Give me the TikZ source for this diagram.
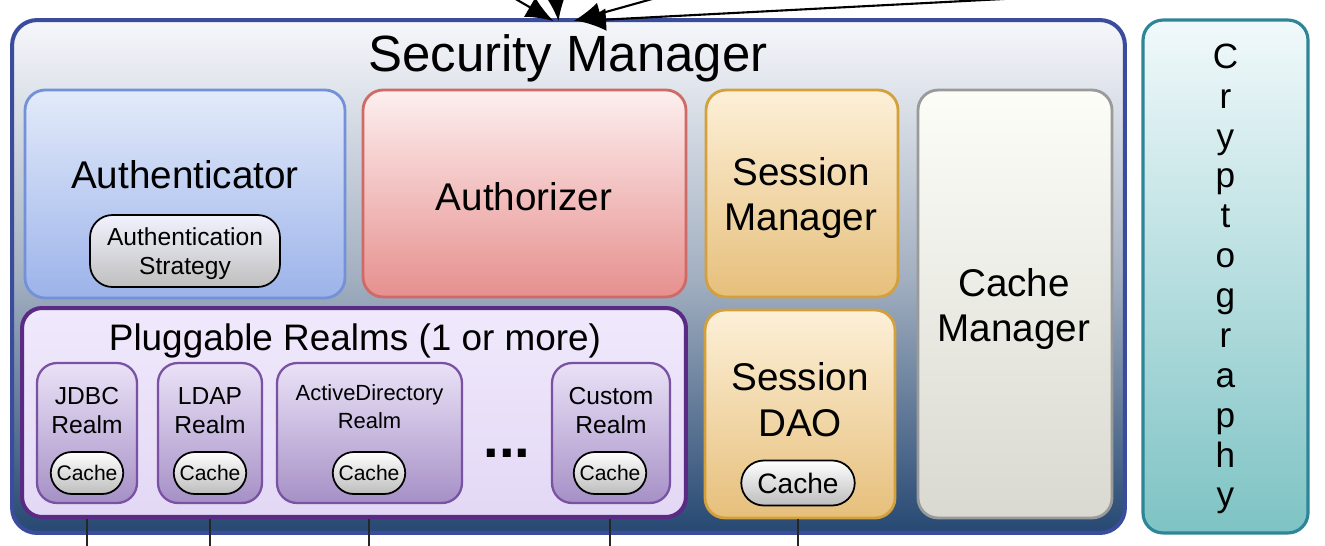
\documentclass[tikz,border=0pt]{standalone}
\usepackage{fontspec}
\setmainfont{Liberation Sans}
\usetikzlibrary{positioning, arrows.meta, shapes.misc}
\definecolor{smline}{HTML}{3B4C9C}
\definecolor{smtop}{HTML}{F6F7FB}
\definecolor{smmid}{HTML}{A3B0C1}
\definecolor{smbot}{HTML}{264872}
\definecolor{cryline}{HTML}{2E8597}
\definecolor{crytop}{HTML}{F1F9FB}
\definecolor{crybot}{HTML}{7EC3C4}
\definecolor{acline}{HTML}{7391D8}
\definecolor{actop}{HTML}{E3EBFA}
\definecolor{acbot}{HTML}{9CB3EA}
\definecolor{azline}{HTML}{CF6A66}
\definecolor{aztop}{HTML}{FDEFEF}
\definecolor{azbot}{HTML}{E6908E}
\definecolor{ssline}{HTML}{D4A03C}
\definecolor{sstop}{HTML}{FDF0D8}
\definecolor{ssbot}{HTML}{E6BF7B}
\definecolor{cmline}{HTML}{9A9A9A}
\definecolor{cmtop}{HTML}{FDFDF8}
\definecolor{cmbot}{HTML}{D9D9D1}
\definecolor{rcline}{HTML}{5B2A84}
\definecolor{rctop}{HTML}{F0E9FC}
\definecolor{rcbot}{HTML}{E3D8F5}
\definecolor{rlline}{HTML}{7A52A3}
\definecolor{rltop}{HTML}{EAE2F7}
\definecolor{rlbot}{HTML}{A690C6}
\definecolor{pillbot}{HTML}{BDBDBD}

\begin{document}
\begin{tikzpicture}[x=0.02cm, y=-0.02cm,
	box/.style={draw, rounded corners=0.4cm, line width=1.6pt, inner sep=0pt},
	realm/.style={box, draw=rlline, line width=1.3pt, top color=rltop, bottom color=rlbot, minimum height=2.8cm},
	pill/.style={draw=black, line width=1pt, rounded rectangle, top color=white, bottom color=pillbot, inner sep=1pt, minimum height=0.84cm, minimum width=1.52cm, font=\fontsize{12}{14}\selectfont},
	big/.style={font=\fontsize{22}{26}\selectfont, align=center},
	small/.style={font=\fontsize{14}{16.5}\selectfont, align=center},
	wire/.style={line width=1.1pt, draw=black!85},
	feed/.style={line width=1.2pt, -{Latex[length=0.55cm, width=0.45cm]}}]
	\useasboundingbox (0,0) rectangle (1325,545);

	% security manager and cryptography
	\node[box, draw=smline, line width=2.3pt, rounded corners=0.5cm, top color=smtop, bottom color=smbot, middle color=smmid, minimum width=22.26cm, minimum height=10.26cm] (sm) at (568.5,276.5) {};
	\node[font=\fontsize{29}{34}\selectfont] (smtitle) at (568,58) {Security Manager};
	\node[box, draw=cryline, line width=1.8pt, top color=crytop, bottom color=crybot, minimum width=3.3cm, minimum height=10.26cm] (crypto) at (1225.5,276.5) {};
	\node[font=\fontsize{20}{22.7}\selectfont, align=center] (cryptotext) at (1225.5,279) {C\\r\\y\\p\\t\\o\\g\\r\\a\\p\\h\\y};

	% upper row
	\node[box, draw=acline, top color=actop, bottom color=acbot, minimum width=6.4cm, minimum height=4.16cm] (authc) at (185,194) {};
	\node[big] (authctext) at (185,175) {Authenticator};
	\node[box, draw=black, line width=1pt, rounded corners=0.45cm, top color=white!95!blue, bottom color=black!25, minimum width=3.8cm, minimum height=1.44cm] (strategy) at (185,251) {};
	\node[small] (strategytext) at (185,254) {Authentication\\Strategy};
	\node[box, draw=azline, top color=aztop, bottom color=azbot, minimum width=6.46cm, minimum height=4.14cm] (authz) at (524.5,193.5) {};
	\node[big] (authztext) at (524,197) {Authorizer};
	\node[box, draw=ssline, top color=sstop, bottom color=ssbot, minimum width=3.84cm, minimum height=4.14cm] (sessmgr) at (802,193.5) {};
	\node[big] (sessmgrtext) at (801,198) {Session\\Manager};
	\node[box, draw=cmline, top color=cmtop, bottom color=cmbot, minimum width=3.88cm, minimum height=8.56cm] (cachemgr) at (1015,304) {};
	\node[big] (cachemgrtext) at (1014,309) {Cache\\Manager};

	% session dao
	\node[box, draw=ssline, top color=sstop, bottom color=ssbot, minimum width=3.8cm, minimum height=4.16cm] (sessdao) at (800,414) {};
	\node[big] (sessdaotext) at (800,400) {Session\\DAO};
	\node[pill, minimum width=2.34cm, minimum height=0.9cm, font=\fontsize{16}{18}\selectfont] (daocache) at (798,483) {Cache};

	% realms
	\node[box, draw=rcline, line width=2.3pt, top color=rctop, bottom color=rcbot, minimum width=13.28cm, minimum height=4.18cm] (realms) at (354,412.5) {};
	\node[font=\fontsize{21}{25}\selectfont] (realmstext) at (355,341) {Pluggable Realms (1 or more)};
	\node[realm, minimum width=2cm] (jdbc) at (87,433) {};
	\node[realm, minimum width=2.08cm] (ldap) at (210,433) {};
	\node[realm, minimum width=3.7cm] (ad) at (369.5,433) {};
	\node[realm, minimum width=2.36cm] (custom) at (611,433) {};
	\node[small] (jdbctext) at (87,411) {JDBC\\Realm};
	\node[small] (ldaptext) at (210,411) {LDAP\\Realm};
	\node[small, font=\fontsize{12.5}{16}\selectfont] (adtext) at (369.5,407) {ActiveDirectory\\Realm};
	\node[small] (customtext) at (611,411) {Custom\\Realm};
	\node[pill] (jdbccache) at (87,473) {Cache};
	\node[pill] (ldapcache) at (210,473) {Cache};
	\node[pill] (adcache) at (369,473) {Cache};
	\node[pill] (customcache) at (610,473) {Cache};
	\node[font=\fontsize{32}{32}\selectfont\bfseries] (dots) at (507,453) {...};

	% lines out of the bottom
	\coordinate (jdbcend) at (87,560);
	\coordinate (ldapend) at (210,560);
	\coordinate (adend) at (369,560);
	\coordinate (customend) at (610,560);
	\coordinate (daoend) at (798,560);
	\path[wire]
	(jdbc |- realms.south) edge (jdbcend)
	(ldap |- realms.south) edge (ldapend)
	(adcache |- realms.south) edge (adend)
	(customcache |- realms.south) edge (customend)
	(daocache |- sessdao.south) edge (daoend);

	% incoming arrows
	\coordinate (ina) at (440,-45);
	\coordinate (inb) at (552,-40);
	\coordinate (inc) at (720,-20);
	\coordinate (ind) at (1100,-6);
	\coordinate (tipa) at ([xshift=-0.3cm, yshift=-0.06cm]sm.north);
	\coordinate (tipb) at ([xshift=-0.2cm, yshift=-0.06cm]sm.north);
	\coordinate (tipc) at ([xshift=0.1cm, yshift=-0.06cm]sm.north);
	\coordinate (tipd) at ([xshift=0.2cm, yshift=-0.06cm]sm.north);
	\path[feed]
	(ina) edge (tipa)
	(inb) edge (tipb)
	(inc) edge (tipc)
	(ind) edge (tipd);
\end{tikzpicture}
\end{document}
